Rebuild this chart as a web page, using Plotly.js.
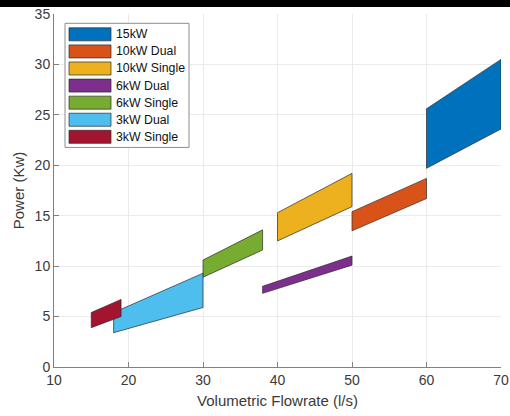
<!DOCTYPE html>
<html>
<head>
<meta charset="utf-8">
<script src="https://cdn.plot.ly/plotly-3.0.1.min.js"></script>
<style>
html,body{margin:0;padding:0;background:#fff;}
#wrap{position:relative;width:510px;height:416px;}
#chart{width:510px;height:416px;}
#topbar{position:absolute;left:0;top:0;width:510px;height:7px;background:#000;}
</style>
</head>
<body>
<div id="wrap"><div id="chart"></div><div id="topbar"></div></div>
<script>
// Series data
var names = ["15kW", "10kW Dual", "10kW Single", "6kW Dual", "6kW Single", "3kW Dual", "3kW Single"];
var colors = ["#0072BD", "#D95319", "#EDB120", "#7E2F8E", "#77AC30", "#4DBEEE", "#A2142F"];
var flowStart = [60, 50, 40, 38, 30, 18, 15];
var flowEnd   = [70, 60, 50, 50, 38, 30, 19];
var powerLowStart  = [19.7, 13.5, 12.5, 7.3, 8.9, 3.4, 3.9];
var powerLowEnd    = [23.6, 16.7, 15.9, 10.1, 11.6, 5.9, 5.0];
var powerHighStart = [25.6, 15.4, 15.3, 8.0, 10.6, 5.4, 5.4];
var powerHighEnd   = [30.5, 18.7, 19.2, 11.0, 13.6, 9.3, 6.7];
var xTicks = [10, 20, 30, 40, 50, 60, 70];
var yTicks = [0, 5, 10, 15, 20, 25, 30, 35];

var traces = names.map(function (n, i) {
  return {
    type: "scatter",
    mode: "lines",
    name: n,
    x: [flowStart[i], flowEnd[i], flowEnd[i], flowStart[i], flowStart[i]],
    y: [powerLowStart[i], powerLowEnd[i], powerHighEnd[i], powerHighStart[i], powerLowStart[i]],
    fill: "toself",
    fillcolor: colors[i],
    line: {color: "#2b2b2b", width: 0.7},
    showlegend: false,
    hoverinfo: "skip"
  };
});

// plot area in pixels: x 54..501, y 14..366.7
var L = 54, R = 501, T = 14, B = 366.7;
function px(x) { return (x - L) / (R - L); }
function py(y) { return (B - y) / (B - T); }

var shapes = [];
var annotations = [];
// legend box
shapes.push({type: "rect", xref: "paper", yref: "paper",
  x0: px(65), x1: px(189), y0: py(147.3), y1: py(23.3),
  fillcolor: "#ffffff", line: {color: "#8c8c8c", width: 1}, layer: "above"});
names.forEach(function (n, i) {
  var cy = 34.3 + 17.07 * i;
  shapes.push({type: "rect", xref: "paper", yref: "paper",
    x0: px(69), x1: px(111), y0: py(cy + 6.5), y1: py(cy - 6.5),
    fillcolor: colors[i], line: {color: "#2b2b2b", width: 0.7}, layer: "above"});
  annotations.push({xref: "paper", yref: "paper", x: px(113.5), y: py(cy),
    xanchor: "left", yanchor: "middle", showarrow: false, text: n,
    font: {family: "Liberation Sans, Arial, sans-serif", size: 12.3, color: "#111"}});
});

var layout = {
  width: 510, height: 416,
  margin: {l: L, r: 510 - R, t: T, b: 416 - B, pad: 0},
  paper_bgcolor: "#fff", plot_bgcolor: "#fff",
  showlegend: false,
  font: {family: "Liberation Sans, Arial, sans-serif", color: "#333"},
  xaxis: {
    range: [10, 70], tickvals: xTicks, ticktext: xTicks.map(String),
    showgrid: true, gridcolor: "#ebebeb", gridwidth: 1,
    zeroline: false, showline: true, linecolor: "#808080", linewidth: 1,
    ticks: "inside", ticklen: 5, tickcolor: "#808080",
    tickfont: {size: 14, color: "#3a3a3a"},
    title: {text: "Volumetric Flowrate (l/s)", font: {size: 15, color: "#3a3a3a"}, standoff: 8}
  },
  yaxis: {
    range: [0, 35], tickvals: yTicks, ticktext: yTicks.map(String),
    showgrid: true, gridcolor: "#ebebeb", gridwidth: 1,
    zeroline: false, showline: true, linecolor: "#808080", linewidth: 1,
    ticks: "inside", ticklen: 5, tickcolor: "#808080",
    tickfont: {size: 14, color: "#3a3a3a"},
    title: {text: "Power (Kw)", font: {size: 15, color: "#3a3a3a"}, standoff: 6}
  },
  shapes: shapes,
  annotations: annotations
};

Plotly.newPlot("chart", traces, layout, {displayModeBar: false, staticPlot: true});
</script>
</body>
</html>
